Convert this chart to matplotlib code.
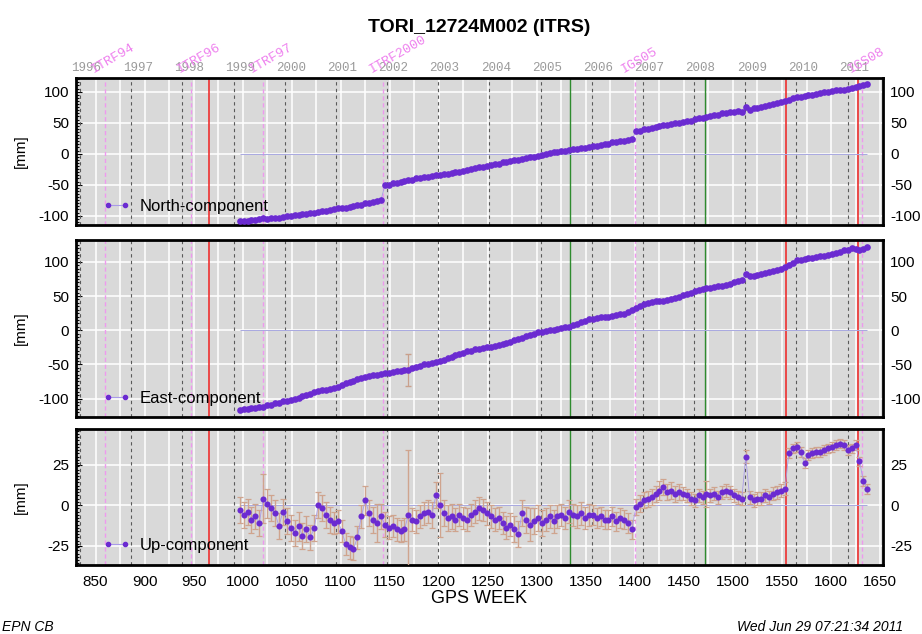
import numpy as np
import matplotlib
matplotlib.use('Agg')
import matplotlib.pyplot as plt
import matplotlib.transforms as mtrans
from matplotlib.lines import Line2D
from matplotlib.ticker import MultipleLocator, FixedLocator

plt.rcParams['font.family'] = ['Liberation Sans', 'DejaVu Sans']
plt.rcParams['axes.unicode_minus'] = False

# GPS weeks of the solutions (every 4th week)
weeks = np.arange(997, 1638, 4)

north = [-109, -108, -108, -107, -107, -106, -104, -105, -104, -103,
         -103, -102, -101, -101, -99, -99, -98, -97, -96, -96,
         -94, -93, -92, -91, -90, -88, -88, -87, -86, -84,
         -83, -82, -80, -79, -78, -77, -75, -51, -50, -48,
         -47, -45, -44, -43, -42, -40, -39, -38, -37, -36,
         -35, -34, -33, -32, -31, -30, -29, -28, -26, -25,
         -23, -22, -21, -20, -18, -17, -16, -14, -13, -12,
         -11, -10, -8, -7, -6, -5, -3, -2, 0, 1,
         2, 3, 4, 5, 6, 7, 8, 9, 9, 11,
         12, 13, 14, 15, 16, 18, 19, 20, 21, 22,
         23, 36, 37, 39, 40, 42, 43, 45, 46, 47,
         48, 49, 50, 51, 52, 53, 56, 57, 58, 59,
         60, 62, 63, 65, 66, 67, 67, 68, 67, 76,
         71, 73, 74, 76, 77, 79, 80, 82, 83, 85,
         87, 89, 91, 92, 93, 94, 95, 96, 97, 99,
         100, 101, 102, 103, 103, 104, 106, 107, 109, 111,
         113]

east = [-117, -116, -115, -114, -114, -113, -112, -110, -109, -107,
        -106, -104, -103, -102, -100, -99, -97, -95, -93, -91,
        -89, -88, -87, -86, -85, -83, -80, -78, -76, -74,
        -72, -70, -68, -67, -66, -65, -64, -63, -62, -61,
        -60, -59, -58, -58, -56, -54, -52, -50, -49, -48,
        -47, -45, -43, -41, -39, -37, -35, -33, -31, -30,
        -28, -27, -26, -25, -24, -23, -21, -20, -19, -17,
        -15, -13, -11, -9, -7, -5, -3, -2, -1, 0,
        1, 2, 3, 4, 5, 7, 9, 12, 14, 16,
        17, 18, 19, 20, 20, 21, 22, 23, 24, 26,
        29, 32, 35, 38, 40, 41, 42, 43, 43, 44,
        45, 47, 49, 51, 53, 55, 57, 59, 60, 61,
        62, 63, 64, 65, 66, 68, 70, 72, 74, 82,
        79, 80, 81, 82, 83, 85, 86, 88, 90, 92,
        95, 99, 102, 103, 104, 105, 106, 107, 108, 109,
        110, 111, 113, 115, 117, 118, 120, 119, 118, 119,
        122]

up = [-3, -6, -4, -9, -7, -11, 4, 1, -2, -5,
      -13, -4, -10, -14, -17, -13, -19, -15, -20, -14,
      0, -2, -6, -9, -11, -10, -16, -24, -26, -27,
      -20, -7, 3, -5, -9, -11, -7, -12, -14, -13,
      -15, -16, -15, -6, -9, -10, -7, -5, -4, -6,
      6, 0, -5, -8, -7, -9, -6, -8, -9, -6,
      -4, -2, -3, -5, -7, -9, -8, -11, -14, -12,
      -15, -18, -5, -9, -12, -10, -8, -11, -9, -7,
      -10, -7, -6, -8, -4, -6, -7, -5, -8, -6,
      -6, -8, -7, -9, -9, -7, -10, -8, -9, -11,
      -15, -1, 1, 3, 4, 5, 7, 9, 11, 8,
      9, 7, 8, 7, 6, 4, 3, 6, 5, 7,
      6, 7, 5, 8, 9, 8, 6, 5, 4, 30,
      5, 3, 4, 4, 6, 5, 7, 8, 9, 10,
      32, 35, 36, 33, 26, 31, 32, 33, 33, 34,
      35, 36, 37, 38, 37, 34, 35, 37, 27, 15,
      10]

up_err = [8, 8, 8, 8, 8, 8, 15, 9, 8, 8,
          8, 8, 8, 8, 8, 9, 8, 8, 8, 8,
          8, 8, 8, 8, 7, 7, 7, 7, 7, 7,
          7, 7, 9, 8, 8, 12, 8, 8, 7, 7,
          7, 7, 7, 40, 7, 7, 7, 7, 7, 8,
          8, 20, 8, 8, 8, 7, 7, 7, 7, 7,
          7, 7, 7, 7, 7, 7, 7, 7, 7, 7,
          8, 8, 8, 8, 10, 8, 8, 8, 7, 7,
          7, 7, 7, 7, 7, 7, 7, 7, 7, 7,
          6, 6, 6, 6, 6, 6, 6, 6, 6, 6,
          6, 5, 5, 5, 5, 5, 5, 6, 5, 5,
          5, 5, 5, 4, 4, 4, 4, 4, 4, 8,
          4, 4, 4, 4, 4, 4, 4, 4, 4, 4,
          4, 4, 4, 4, 4, 4, 4, 4, 4, 4,
          3, 3, 3, 3, 3, 3, 3, 3, 3, 3,
          3, 3, 3, 3, 3, 3, 3, 3, 3, 3,
          3]

# one large east error bar
spike_weeks = [1169]
spike_east = [-58]
spike_east_err = [23]

# year boundaries in GPS weeks
year_weeks = [834.1, 886.4, 938.6, 990.7, 1042.9, 1095.1, 1147.3, 1199.4,
              1251.6, 1303.9, 1356.0, 1408.1, 1460.3, 1512.6, 1564.7, 1616.9]
year_labels = ['1996', '1997', '1998', '1999', '2000', '2001', '2002', '2003',
               '2004', '2005', '2006', '2007', '2008', '2009', '2010', '2011']

# reference frame changes
frame_weeks = [860, 947, 1021, 1143, 1400, 1632]
frame_labels = ['ITRF94', 'ITRF96', 'ITRF97', 'ITRF2000', 'IGS05', 'IGS08']

# equipment changes (red) and other events (green)
red_weeks = [966, 1554, 1627]
green_weeks = [1334, 1471]

names = ['North-component', 'East-component', 'Up-component']
series = [north, east, up]
ylims = [(-115, 122), (-127, 132), (-37, 47)]
yticks = [[-100, -50, 0, 50, 100], [-100, -50, 0, 50, 100], [-25, 0, 25]]
minor_step = [5, 5, 2]
legend_y = [-85, -100, -25]
marker_size = [4.8, 4.8, 4.4]

purple = '#6b2bd1'
mono = ['Liberation Mono', 'DejaVu Sans Mono']

fig = plt.figure(figsize=(9.22, 6.34), dpi=100)
L, R = 0.0824, 0.9577
boxes = [(0.6451, 0.877), (0.3423, 0.6215), (0.1088, 0.3233)]

axes = []
for i, (b, t) in enumerate(boxes):
    ax = fig.add_axes([L, b, R - L, t - b])
    axes.append(ax)
    ax.set_facecolor('#d9d9d9')
    ax.set_xlim(830, 1653)
    ax.set_ylim(*ylims[i])
    ax.set_axisbelow(True)

    ax.xaxis.set_major_locator(MultipleLocator(50))
    ax.xaxis.set_minor_locator(MultipleLocator(25))
    ax.yaxis.set_major_locator(FixedLocator(yticks[i]))
    ax.yaxis.set_minor_locator(MultipleLocator(minor_step[i]))
    ax.grid(True, which='major', color='white', lw=1.1)
    ax.xaxis.grid(True, which='minor', color='white', lw=1.1)

    for s in ax.spines.values():
        s.set_linewidth(2)
        s.set_color('black')

    ax.tick_params(axis='y', which='major', left=True, right=False,
                   labelleft=True, labelright=True, direction='in',
                   length=4, labelsize=11, pad=5)
    ax.tick_params(axis='y', which='minor', left=True, right=False,
                   direction='in', length=2.5, width=0.8)
    ax.tick_params(axis='x', which='both', length=0,
                   labelbottom=(i == 2), labelsize=11, pad=7)

    for w in year_weeks:
        ax.axvline(w, color='#5a5a5a', lw=0.8, ls=(0, (3, 3)), zorder=1.5)
    for w in frame_weeks:
        ax.axvline(w, color='#ee99ee', lw=1.0, ls=(0, (3, 2)), zorder=1.5)
    for w in red_weeks:
        ax.axvline(w, color='#ee3030', lw=1.2, zorder=1.6)
    for w in green_weeks:
        ax.axvline(w, color='#2e8b2e', lw=1.0, zorder=1.6)

    ax.hlines(0, weeks[0], weeks[-1], color='#a8a8e0', lw=0.7, zorder=1.7)

    if i == 2:
        ax.errorbar(weeks, up, yerr=up_err, fmt='none', ecolor='#cfa48e',
                    elinewidth=1.0, capsize=2, capthick=0.9, zorder=2.8)
    if i == 1:
        ax.errorbar(spike_weeks, spike_east, yerr=spike_east_err, fmt='none',
                    ecolor='#c9a08c', elinewidth=0.9, capsize=2, zorder=2.8)

    ax.plot(weeks, series[i], '-', color='#a99be8', lw=0.6, zorder=3)
    ax.plot(weeks, series[i], 'o', color=purple, ms=marker_size[i], mew=0,
            zorder=4)

    ax.set_ylabel('[mm]', size=11)
    ax.yaxis.set_label_coords(-0.06, 0.5)

    handle = Line2D([], [], color='#a99be8', lw=0.8, marker='o', ms=3,
                    mfc=purple, mec=purple)
    tr = mtrans.blended_transform_factory(ax.transAxes, ax.transData)
    ax.legend([handle], [names[i]], loc='center left', numpoints=2,
              bbox_to_anchor=(0.034, legend_y[i]), bbox_transform=tr,
              frameon=False, fontsize=12, handlelength=1.6,
              handletextpad=0.6, borderpad=0, borderaxespad=0)

ax1 = axes[0]
tr1 = mtrans.blended_transform_factory(ax1.transData, ax1.transAxes)
for w, lab in zip(year_weeks, year_labels):
    ax1.text(w + 6.5, 1.068, lab, transform=tr1, ha='center', va='center',
             family=mono, size=9, color='#9a9a9a')
for w, lab in zip(frame_weeks, frame_labels):
    ax1.text(w - 11.5, 1.035, lab, transform=tr1, ha='left', va='baseline',
             rotation=30, rotation_mode='anchor', family=mono, size=9.5,
             color='#ee80ee')

axes[2].set_xlabel('GPS WEEK', size=13, labelpad=1)

fig.text(0.5195, 1 - 27 / 634, 'TORI_12724M002 (ITRS)', ha='center',
         va='center', weight='bold', size=14)
fig.text(0.002, 1 - 627 / 634, 'EPN CB', style='italic', size=10, va='center')
fig.text(737 / 922, 1 - 627 / 634, 'Wed Jun 29 07:21:34 2011', style='italic',
         size=10, ha='left', va='center')

fig.savefig('out.png', dpi=100)
